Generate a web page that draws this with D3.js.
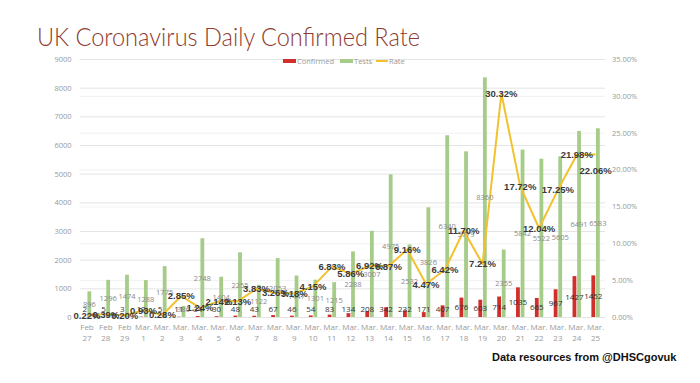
<!DOCTYPE html>
<html><head><meta charset="utf-8">
<script src="https://cdn.jsdelivr.net/npm/d3@7"></script>
<style>
html,body{margin:0;padding:0;background:#fff;}
svg{display:block;}
</style></head>
<body>
<svg id="chart" width="700" height="383"></svg>
<script>
const months = ["Feb","Feb","Feb","Mar.","Mar.","Mar.","Mar.","Mar.","Mar.","Mar.","Mar.","Mar.","Mar.","Mar.","Mar.","Mar.","Mar.","Mar.","Mar.","Mar.","Mar.","Mar.","Mar.","Mar.","Mar.","Mar.","Mar.","Mar."];
const days = ["27","28","29","1","2","3","4","5","6","7","8","9","10","11","12","13","14","15","16","17","18","19","20","21","22","23","24","25"];
const confirmed = [2,5,3,12,5,11,34,30,48,43,67,46,54,83,134,208,342,232,171,407,676,603,714,1035,665,967,1427,1452];
const tests = [896,1296,1474,1288,1775,386,2748,1404,2255,1122,2053,1447,1301,1215,2288,3007,4975,2532,3826,6340,5779,8360,2355,5842,5522,5605,6491,6583];
const rate = [0.22,0.39,0.20,0.93,0.28,2.85,1.24,2.14,2.13,3.83,3.26,3.18,4.15,6.83,5.86,6.92,6.87,9.16,4.47,6.42,11.70,7.21,30.32,17.72,12.04,17.25,21.98,22.06];
const leftTicks = [0,1000,2000,3000,4000,5000,6000,7000,8000,9000];
const rightTicks = [0,5,10,15,20,25,30,35];
const seriesNames = ["Confirmed","Tests","Rate"];
const title = "UK Coronavirus Daily Confirmed Rate";
const source = "Data resources from @DHSCgovuk";

const colors = {Confirmed:"#d0302c", Tests:"#a6cc8a", Rate:"#f2c12e"};
const svg = d3.select("#chart");
const W = 700, H = 383;
const plot = {x0: 77.6, x1: 605, y0: 59, y1: 317};

const idx = d3.range(days.length);
const x = d3.scaleBand().domain(idx).range([plot.x0, plot.x1]);
const yL = d3.scaleLinear().domain([0,9000]).range([plot.y1, plot.y0]);
const yR = d3.scaleLinear().domain([0,35]).range([plot.y1, plot.y0]);
const cx = i => x(i) + x.bandwidth()/2;

// title
svg.append("text").attr("x",37).attr("y",46)
  .attr("font-family","Lato, 'Open Sans', sans-serif").attr("font-weight",300)
  .attr("font-size",25).attr("fill","#8e3b2e")
  .attr("textLength",383).attr("lengthAdjust","spacingAndGlyphs")
  .text(title);

// gridlines
const g = svg.append("g");
g.selectAll(".gr").data(rightTicks).join("line")
  .attr("x1",plot.x0+2).attr("x2",plot.x1)
  .attr("y1",d=>yR(d)+0.5).attr("y2",d=>yR(d)+0.5)
  .attr("stroke","#f1f1f1").attr("stroke-width",1);
g.selectAll(".gl").data(leftTicks).join("line")
  .attr("x1",plot.x0+2).attr("x2",plot.x1)
  .attr("y1",d=>yL(d)+0.5).attr("y2",d=>yL(d)+0.5)
  .attr("stroke","#e4e4e4").attr("stroke-width",1);

// axes
const axL = d3.axisLeft(yL).tickValues(leftTicks).tickSize(0).tickPadding(0).tickFormat(d3.format("d"));
const gL = svg.append("g").attr("transform",`translate(${plot.x0-6},0)`).call(axL);
gL.select(".domain").remove();
gL.selectAll("text").attr("font-family","'Open Sans', sans-serif").attr("font-size",7.5).attr("fill","#999");

const axR = d3.axisRight(yR).tickValues(rightTicks).tickSize(0).tickPadding(0).tickFormat(d=>d3.format(".2f")(d)+"%");
const gR = svg.append("g").attr("transform",`translate(${plot.x1+7},0)`).call(axR);
gR.select(".domain").remove();
gR.selectAll("text").attr("font-family","'Open Sans', sans-serif").attr("font-size",7.5).attr("fill","#999");

// x labels
const xl = svg.append("g").attr("font-family","'Open Sans', sans-serif").attr("font-size",8).attr("fill","#9a9a9a").attr("text-anchor","middle");
xl.selectAll(".m").data(idx).join("text").attr("x",i=>cx(i)).attr("y",330).text(i=>months[i]);
xl.selectAll(".d").data(idx).join("text").attr("x",i=>cx(i)).attr("y",341).text(i=>days[i]);

// bars
const bw = 3.8;
svg.append("g").selectAll("rect").data(idx).join("rect")
  .attr("x",i=>cx(i)-bw-0.4).attr("width",bw)
  .attr("y",i=>yL(confirmed[i])).attr("height",i=>yL(0)-yL(confirmed[i]))
  .attr("fill",colors.Confirmed);
svg.append("g").selectAll("rect").data(idx).join("rect")
  .attr("x",i=>cx(i)+0.4).attr("width",bw)
  .attr("y",i=>yL(tests[i])).attr("height",i=>yL(0)-yL(tests[i]))
  .attr("fill",colors.Tests);

// line
const line = d3.line().x(i=>cx(i)).y(i=>yR(rate[i]));
svg.append("path").datum(idx).attr("d",line).attr("fill","none")
  .attr("stroke",colors.Rate).attr("stroke-width",2).attr("stroke-linejoin","round");

// bar labels
const labY = v => Math.min((yL(0)+yL(v))/2, 309) + 3;
svg.append("g").attr("font-family","'Open Sans', sans-serif").attr("font-size",8).attr("fill","#333").attr("text-anchor","middle")
  .selectAll("text").data(idx).join("text")
  .attr("x",i=>cx(i)-bw/2-0.4).attr("y",i=>labY(confirmed[i])).text(i=>confirmed[i]);
svg.append("g").attr("font-family","'Open Sans', sans-serif").attr("font-size",7.5).attr("fill","#8a8a8a").attr("text-anchor","middle")
  .selectAll("text").data(idx).join("text")
  .attr("x",i=>cx(i)+bw/2+0.4).attr("y",i=>labY(tests[i])).text(i=>tests[i]);

// rate labels
svg.append("g").attr("font-family","'Liberation Sans', Arial, sans-serif").attr("font-weight","bold").attr("font-size",9.5).attr("fill","#3a3a3a").attr("text-anchor","middle")
  .selectAll("text").data(idx).join("text")
  .attr("x",i=>cx(i)).attr("y",i=>yR(rate[i]) + 3.5 + (i===idx.length-1 ? 16 : 0))
  .text(i=>rate[i].toFixed(2)+"%");

// legend
const lg = svg.append("g").attr("font-family","'Open Sans', sans-serif").attr("font-size",7.5).attr("fill","#999");
lg.append("rect").attr("x",283).attr("y",59).attr("width",13).attr("height",4).attr("fill",colors.Confirmed);
lg.append("text").attr("x",297).attr("y",63.5).text(seriesNames[0]);
lg.append("rect").attr("x",340).attr("y",59).attr("width",13).attr("height",4).attr("fill",colors.Tests);
lg.append("text").attr("x",354).attr("y",63.5).text(seriesNames[1]);
lg.append("line").attr("x1",376).attr("x2",388).attr("y1",61).attr("y2",61).attr("stroke",colors.Rate).attr("stroke-width",2);
lg.append("text").attr("x",389).attr("y",63.5).text(seriesNames[2]);

// source
svg.append("text").attr("x",492).attr("y",361)
  .attr("font-family","'Liberation Sans', Arial, sans-serif").attr("font-weight","bold").attr("font-size",11).attr("fill","#111")
  .text(source);
</script>
</body></html>
